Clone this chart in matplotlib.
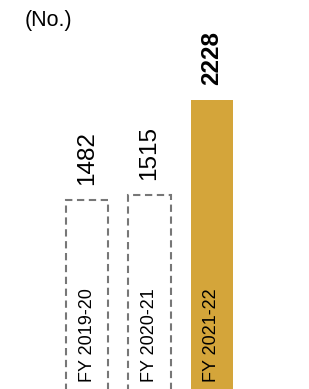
import matplotlib
matplotlib.use("Agg")
import matplotlib.pyplot as plt

years = ["FY 2019-20", "FY 2020-21", "FY 2021-22"]
counts = [1482, 1515, 2228]
gold = "#D4A53A"

plt.rcParams['font.family'] = ['Liberation Sans', 'DejaVu Sans']

fig = plt.figure(figsize=(3.09, 3.89), dpi=100)
# axes runs a little below the figure so the bars look cut off at the bottom
ax = fig.add_axes([0, -9 / 389, 1, 398 / 389])
ax.set_xlim(-87 / 62.5, (309 - 87) / 62.5)
ax.set_ylim(0, 398 / (298 / 2228))
ax.axis("off")

x = list(range(len(years)))
w = 0.68
for i, (yr, v) in enumerate(zip(years, counts)):
    last = i == len(years) - 1
    if last:
        ax.bar(x[i], v, width=w, color=gold, edgecolor="none")
    else:
        ax.bar(x[i], v, width=w, facecolor="none", edgecolor="#777777",
               linewidth=1.5, linestyle=(0, (3.5, 2.2)))
    ax.annotate(str(v), (x[i], v), xytext=(0, 15), textcoords="offset pixels",
                rotation=90, ha="center", va="bottom", fontsize=17.5,
                fontweight="bold" if last else "normal", color="black")
    ax.annotate(yr, (x[i], 0), xytext=(0, 16), textcoords="offset pixels",
                rotation=90, ha="center", va="bottom", fontsize=13,
                color="black")

fig.text(25 / 309, 1 - 10 / 389, "(No.)", ha="left", va="top", fontsize=15.5)

fig.savefig("out.png", dpi=100)
